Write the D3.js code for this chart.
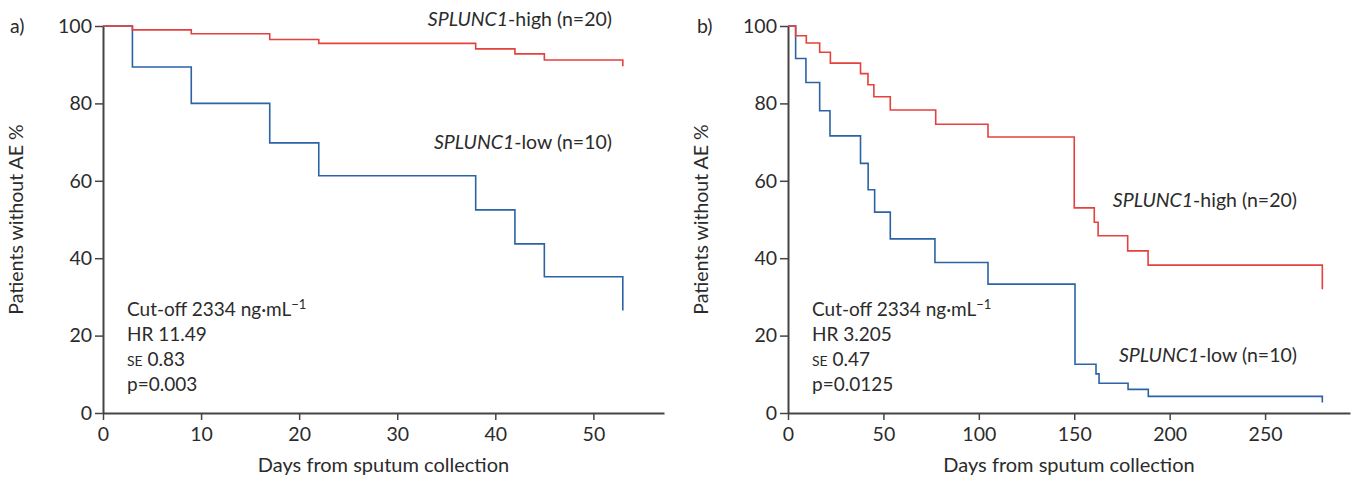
<!DOCTYPE html>
<html>
<head>
<meta charset="utf-8">
<script src="https://cdn.jsdelivr.net/npm/d3@7"></script>
<style>
  body { margin: 0; background: #fff; }
  svg { font-family: "Source Sans Pro", Lato, "Noto Sans", sans-serif; }
  .axis path, .axis line { stroke: #444; }
  .axis text { fill: #2b2b2b; font-size: 19.5px; font-family: Lato, sans-serif; }
</style>
</head>
<body>
<div id="chart"></div>
<script>
// Kaplan-Meier step data (days, % without AE)
var daysA_high = [0, 3, 9, 17, 22, 38, 42, 45, 53, 53];
var survA_high = [100, 99.0, 98.0, 96.5, 95.5, 94.1, 92.8, 91.2, 91.2, 89.6];
var daysA_low = [0, 3, 9, 17, 22, 38, 42, 45, 53, 53];
var survA_low = [100, 89.4, 80.0, 69.8, 61.3, 52.5, 43.7, 35.2, 35.2, 26.5];

var daysB_high = [0, 4, 9.6, 16.6, 22.2, 38, 41.9, 45, 53.6, 77.4, 104.8, 150, 160.5, 162.5, 178, 188.7, 280, 280];
var survB_high = [100, 97.5, 95.6, 93.2, 90.4, 87.7, 84.8, 81.7, 78.3, 74.6, 71.3, 53.0, 49.3, 45.8, 41.9, 38.2, 38.2, 32.0];
var daysB_low = [0, 4, 9.4, 16.6, 22, 38, 42, 45.4, 53.6, 77, 104.8, 150.4, 161.4, 163, 178.2, 188.8, 280, 280];
var survB_low = [100, 91.6, 85.4, 78.1, 71.6, 64.5, 57.7, 51.9, 45.0, 38.9, 33.3, 12.6, 10.1, 7.7, 6.1, 4.3, 4.3, 2.7];

var yTicks = [0, 20, 40, 60, 80, 100];
var xTicksA = [0, 10, 20, 30, 40, 50];
var xTicksB = [0, 50, 100, 150, 200, 250];

var svgWidth = 1352;
var svgHeight = 478;
var redColor = "#e5403c";
var blueColor = "#2b63a6";
var textColor = "#2b2b2b";

var svg = d3.select("#chart")
  .append("svg")
  .attr("width", svgWidth)
  .attr("height", svgHeight);

function drawPanel(opts) {
  var x = d3.scaleLinear().domain([0, opts.xMax]).range([opts.left, opts.right]);
  var y = d3.scaleLinear().domain([0, 100]).range([413, 26]);

  var g = svg.append("g");

  g.append("g")
    .attr("class", "axis")
    .attr("transform", "translate(0,413)")
    .call(d3.axisBottom(x).tickValues(opts.xTicks).tickSize(7).tickSizeOuter(0).tickPadding(7))
    .call(a => a.select(".domain").attr("stroke-width", 2))
    .call(a => a.selectAll(".tick line").attr("stroke-width", 1.5));

  g.append("g")
    .attr("class", "axis")
    .attr("transform", `translate(${opts.left},0)`)
    .call(d3.axisLeft(y).tickValues(yTicks).tickSize(8).tickSizeOuter(0).tickPadding(3))
    .call(a => a.select(".domain").attr("stroke-width", 2))
    .call(a => a.selectAll(".tick line").attr("stroke-width", 1.5));

  var line = d3.line()
    .x(d => x(d[0]))
    .y(d => y(d[1]))
    .curve(d3.curveStepAfter);

  opts.series.forEach(function(s) {
    g.append("path")
      .datum(d3.zip(s.days, s.surv))
      .attr("fill", "none")
      .attr("stroke", s.color)
      .attr("stroke-width", 1.6)
      .attr("d", line);
  });

  // panel letter
  g.append("text")
    .attr("x", opts.letterX)
    .attr("y", 33)
    .style("font-size", "19.5px")
    .style("fill", textColor)
    .text(opts.letter);

  // axis labels
  g.append("text")
    .attr("transform", `translate(${opts.left - 80}, ${y(50)}) rotate(-90)`)
    .attr("text-anchor", "middle")
    .style("font-size", "19.5px")
    .style("fill", textColor)
    .text("Patients without AE %");

  g.append("text")
    .attr("x", (opts.left + opts.right) / 2)
    .attr("y", 472)
    .attr("text-anchor", "middle")
    .style("font-size", "20px")
    .style("fill", textColor)
    .text("Days from sputum collection");

  // group labels
  opts.labels.forEach(function(l) {
    var t = g.append("text")
      .attr("x", l.x)
      .attr("y", l.y)
      .attr("text-anchor", "end")
      .style("font-size", "19.5px")
      .style("fill", textColor);
    t.append("tspan").style("font-style", "italic").text("SPLUNC1");
    t.append("tspan").text(l.text);
  });

  // stats block
  var sx = opts.left + 24;
  var c = g.append("text").attr("x", sx).attr("y", 316).style("font-size", "19px").style("fill", textColor);
  c.append("tspan").text("Cut-off 2334 ng\u00b7mL");
  c.append("tspan").attr("dy", -7).style("font-size", "13px").text("\u22121");
  g.append("text").attr("x", sx).attr("y", 341).style("font-size", "19px").style("fill", textColor).text(opts.hr);
  var se = g.append("text").attr("x", sx).attr("y", 366).style("font-size", "19px").style("fill", textColor);
  se.append("tspan").style("font-size", "14px").text("SE");
  se.append("tspan").text(" " + opts.se);
  g.append("text").attr("x", sx).attr("y", 391).style("font-size", "19px").style("fill", textColor).text(opts.p);
}

drawPanel({
  left: 103, right: 664, xMax: 57.2, xTicks: xTicksA,
  letter: "a)", letterX: 10,
  hr: "HR 11.49", se: "0.83", p: "p=0.003",
  series: [
    { days: daysA_low, surv: survA_low, color: blueColor },
    { days: daysA_high, surv: survA_high, color: redColor }
  ],
  labels: [
    { x: 612, y: 26, text: "-high (n=20)" },
    { x: 612, y: 149, text: "-low (n=10)" }
  ]
});

drawPanel({
  left: 788, right: 1350, xMax: 294.5, xTicks: xTicksB,
  letter: "b)", letterX: 697,
  hr: "HR 3.205", se: "0.47", p: "p=0.0125",
  series: [
    { days: daysB_low, surv: survB_low, color: blueColor },
    { days: daysB_high, surv: survB_high, color: redColor }
  ],
  labels: [
    { x: 1297, y: 207, text: "-high (n=20)" },
    { x: 1297, y: 362, text: "-low (n=10)" }
  ]
});
</script>
</body>
</html>
